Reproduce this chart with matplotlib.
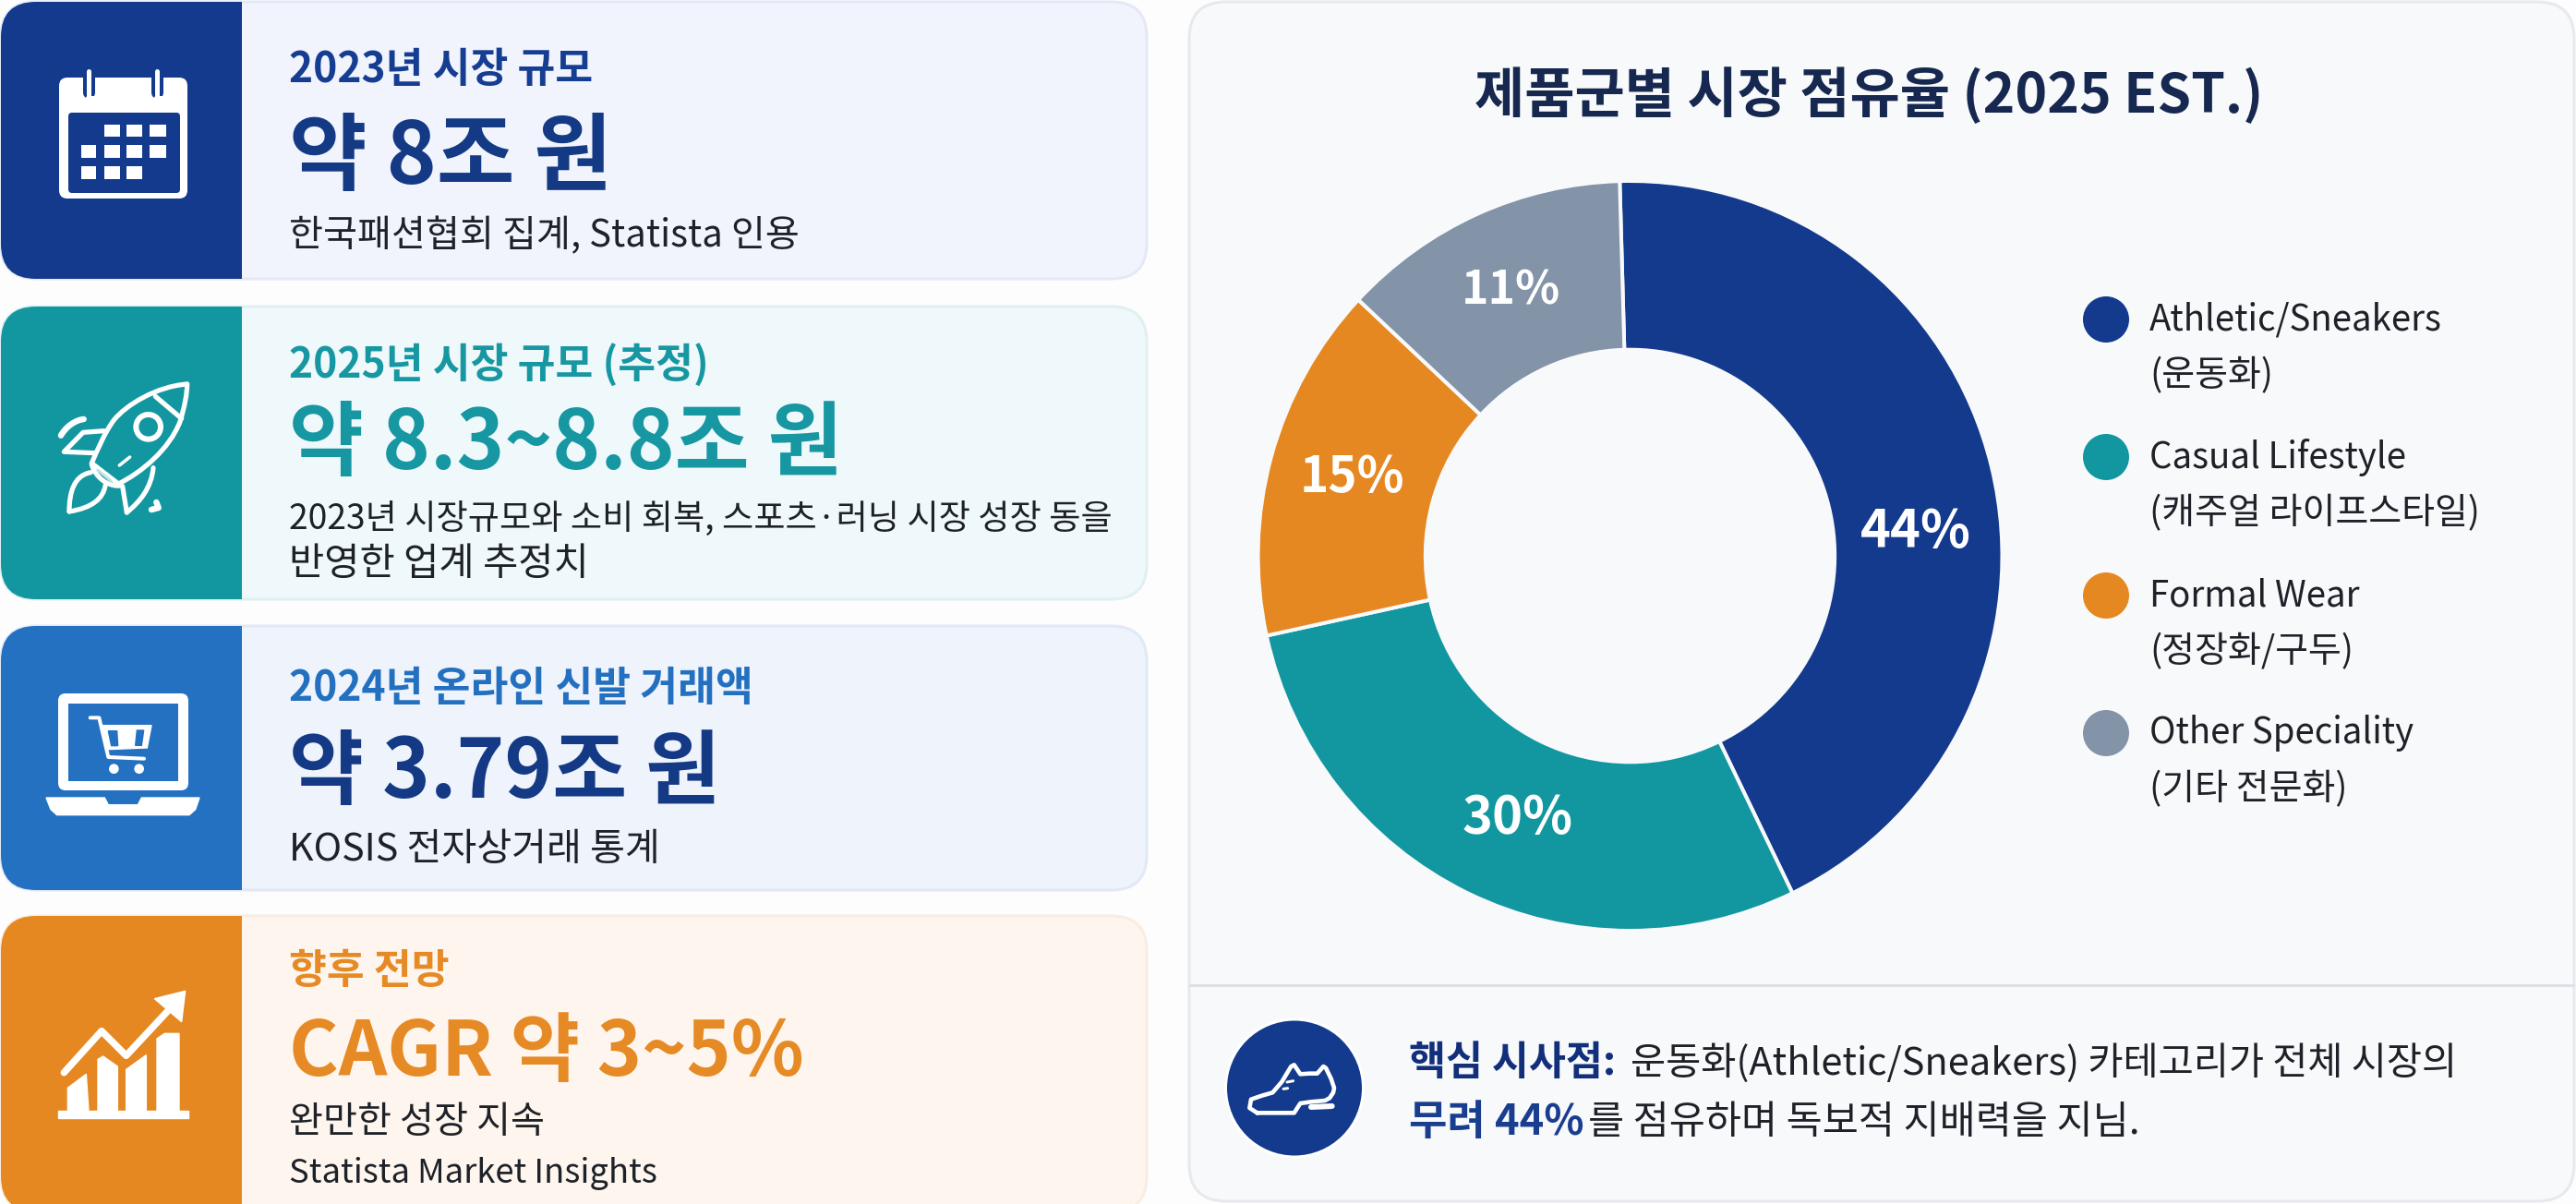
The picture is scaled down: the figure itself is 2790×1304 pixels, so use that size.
import matplotlib
matplotlib.use("Agg")
import matplotlib.pyplot as plt
from matplotlib.patches import FancyBboxPatch, Rectangle, Circle, PathPatch, Polygon
from matplotlib.path import Path

plt.rcParams["font.family"] = ["Noto Sans CJK KR", "DejaVu Sans"]

W, H = 2790, 1304

# donut data
categories = ["Athletic/Sneakers", "Casual Lifestyle", "Formal Wear", "Other Speciality"]
categories_ko = ["(운동화)", "(캐주얼 라이프스타일)", "(정장화/구두)", "(기타 전문화)"]
share_labels = ["44%", "30%", "15%", "11%"]
# arc sizes as measured on the picture
arc_sizes = [43.3, 28.8, 15.4, 12.6]

# cards
card_titles = ["2023년 시장 규모", "2025년 시장 규모 (추정)", "2024년 온라인 신발 거래액", "향후 전망"]
card_values = ["약 8조 원", "약 8.3~8.8조 원", "약 3.79조 원", "CAGR 약 3~5%"]
card_notes = [
    ["한국패션협회 집계, Statista 인용"],
    ["2023년 시장규모와 소비 회복, 스포츠·러닝 시장 성장 동을", "반영한 업계 추정치"],
    ["KOSIS 전자상거래 통계"],
    ["완만한 성장 지속", "Statista Market Insights"],
]

NAVY = "#133A8C"
TEAL = "#1297A1"
ORANGE = "#E68821"
GRAY = "#8393A8"
BLUE = "#2471C2"
slice_colors = [NAVY, TEAL, ORANGE, GRAY]
INK = "#1E2228"

card_boxes = [(2, 302), (332, 649), (678, 964), (992, 1312)]
card_accent = [NAVY, TEAL, BLUE, ORANGE]
card_bg = ["#F1F4FC", "#EFF8FA", "#EEF3FC", "#FEF6EE"]
card_edge = ["#E4E9F5", "#E0F0F2", "#E1E9F6", "#F9EDE0"]
title_colors = ["#153D92", "#1697A2", "#2470C0", "#E68A25"]
value_colors = ["#143A85", "#1697A2", "#143A85", "#E68A25"]
title_y = [71, 390, 741, 1047]
value_y = [162, 473, 829, 1132]
note_y = [[251], [558, 607], [916], [1211, 1267]]
value_size = [92, 88, 88, 82]
note_size = [[40.2], [37.2], [41.2], [40.2, 36.4]]
note_size[1].append(41.6)

fig = plt.figure(figsize=(W / 100, H / 100), dpi=100, facecolor="#FDFDFE")
ax = fig.add_axes([0, 0, 1, 1])
ax.set_xlim(0, W)
ax.set_ylim(H, 0)
ax.axis("off")


def fs(px):
    return px * 0.72


def text(x, y, s, size, color=INK, weight="normal", ha="left"):
    return ax.text(x, y, s, fontsize=fs(size), color=color, fontweight=weight,
                   ha=ha, va="center_baseline", zorder=6)


# white icon helpers, coordinates come from a crop with its own origin and scale
def icon_xy(pts, origin, sx=1 / 3, sy=1 / 3):
    return [(origin[0] + p[0] * sx, origin[1] + p[1] * sy) for p in pts]


def stroke(pts, origin, lw=5.2, codes=None, color="white", fill="none"):
    v = icon_xy(pts, origin)
    if codes is None:
        codes = [Path.MOVETO] + [Path.LINETO] * (len(v) - 1)
    ax.add_patch(PathPatch(Path(v, codes), fc=fill, ec=color, lw=fs(lw),
                           capstyle="round", joinstyle="round", zorder=5))


def solid(pts, origin, color="white"):
    ax.add_patch(Polygon(icon_xy(pts, origin), closed=True, fc=color, ec=color, lw=1, zorder=5))


def curve_codes(n_curves):
    return [Path.MOVETO] + [Path.CURVE4] * (3 * n_curves)


def calendar_icon():
    ax.add_patch(FancyBboxPatch((64, 84), 139, 131, boxstyle="round,pad=0,rounding_size=9",
                                fc="white", ec="none", zorder=4))
    ax.add_patch(FancyBboxPatch((74, 122), 121, 87, boxstyle="round,pad=0,rounding_size=4",
                                fc=NAVY, ec="none", zorder=5))
    for rx in (96, 170):
        ax.plot([rx, rx], [80, 100], color=NAVY, lw=fs(13), solid_capstyle="round", zorder=5)
        ax.plot([rx, rx], [77, 104], color="white", lw=fs(5), solid_capstyle="round", zorder=6)
        ax.plot([rx - 1, rx + 6], [106, 106], color="white", lw=fs(4), solid_capstyle="round", zorder=6)
    cols = [(88, 104), (113, 130), (137, 154), (162, 180)]
    rows = [(135, 148), (157, 171), (180, 194)]
    for r, (y0, y1) in enumerate(rows):
        for c, (x0, x1) in enumerate(cols):
            if (r == 0 and c == 0) or (r == 2 and c == 3):
                continue
            ax.add_patch(Rectangle((x0, y0), x1 - x0, y1 - y0, fc="white", ec="none", zorder=6))


def rocket_icon():
    o = (40, 400)
    stroke([(488, 48), (390, 55), (290, 115), (250, 165), (220, 205), (195, 265), (178, 305)], o,
           codes=curve_codes(2))
    stroke([(178, 305), (265, 372)], o)
    stroke([(265, 372), (340, 335), (430, 260), (465, 170), (480, 120), (488, 80), (488, 48)], o,
           codes=curve_codes(2))
    stroke([(385, 88), (470, 160)], o)
    ax.add_patch(Circle((40 + 362 / 3, 400 + 187 / 3), 40 / 3, fc="none", ec="white", lw=fs(6), zorder=5))
    stroke([(268, 312), (302, 285)], o, lw=3.5)
    stroke([(218, 200), (150, 205), (88, 268), (190, 272)], o)
    stroke([(378, 320), (372, 385), (335, 430), (292, 465)], o, codes=curve_codes(1))
    stroke([(292, 465), (278, 380)], o)
    stroke([(175, 335), (120, 345), (105, 400), (105, 462)], o, codes=curve_codes(1))
    stroke([(105, 462), (180, 450), (215, 420), (222, 378)], o, codes=curve_codes(1))
    stroke([(178, 310), (190, 350), (230, 382), (270, 378)], o, codes=curve_codes(1))
    stroke([(198, 328), (240, 362)], o, lw=3, color="#BFE3E6")
    stroke([(78, 215), (95, 185), (125, 165), (152, 162)], o, lw=6.5, codes=curve_codes(1))
    stroke([(372, 456), (395, 450), (388, 432)], o, lw=6.5)


def laptop_icon():
    o = (30, 730)
    ax.add_patch(FancyBboxPatch((63, 751), 141, 105, boxstyle="round,pad=0,rounding_size=8",
                                fc="white", ec="none", zorder=4))
    ax.add_patch(Rectangle((74, 762), 119, 84, fc=BLUE, ec="none", zorder=4.5))
    solid([(60, 402), (250, 402), (262, 425), (358, 425), (370, 402), (558, 402), (545, 440),
           (525, 458), (95, 458), (75, 440)], o)
    stroke([(203, 142), (232, 142), (262, 270), (378, 275)], o, lw=4)
    solid([(240, 167), (402, 167), (388, 240), (262, 245)], o)
    solid([(262, 185), (290, 185), (293, 233), (272, 233)], o, BLUE)
    solid([(355, 183), (377, 183), (370, 232), (350, 232)], o, BLUE)
    for wx in (280, 362):
        ax.add_patch(Circle((30 + wx / 3, 730 + 308 / 3), 16 / 3, fc="white", ec="none", zorder=5))


def growth_icon():
    o = (40, 1060)
    solid([(70, 430), (492, 430), (492, 452), (70, 452)], o)
    solid([(100, 355), (160, 310), (168, 430), (100, 430)], o)
    solid([(198, 262), (215, 252), (262, 285), (262, 430), (198, 430)], o)
    solid([(290, 295), (355, 248), (355, 430), (290, 430)], o)
    solid([(390, 195), (415, 178), (462, 178), (462, 430), (390, 430)], o)
    stroke([(88, 305), (210, 170), (290, 250), (425, 105)], o, lw=7.5)
    solid([(382, 65), (482, 40), (470, 140)], o)


def shoe_icon():
    o = (1320, 1100)
    stroke([(125, 316), (100, 300), (105, 272), (140, 260), (175, 250), (205, 215), (235, 165),
            (245, 160), (265, 190), (295, 188), (320, 188), (340, 165), (348, 170),
            (365, 205), (375, 235), (372, 250), (360, 268), (345, 276), (300, 280),
            (265, 285), (245, 316), (125, 316)], o, lw=4.6,
           codes=[Path.MOVETO] + [Path.LINETO] * 21)
    stroke([(300, 297), (368, 294)], o, lw=6)
    stroke([(222, 216), (242, 212)], o, lw=3)
    stroke([(210, 238), (224, 236)], o, lw=3)


icons = [calendar_icon, rocket_icon, laptop_icon, growth_icon]

# left cards
for i, (y0, y1) in enumerate(card_boxes):
    card = FancyBboxPatch((1, y0), 1241, y1 - y0, boxstyle="round,pad=0,rounding_size=38",
                          fc=card_bg[i], ec=card_edge[i], lw=fs(3), zorder=1)
    ax.add_patch(card)
    block = Rectangle((0, y0 - 2), 262, y1 - y0 + 4, fc=card_accent[i], ec="none", zorder=2)
    ax.add_patch(block)
    block.set_clip_path(card)
    icons[i]()
    text(313, title_y[i], card_titles[i], 44.4, title_colors[i], "bold")
    text(313, value_y[i], card_values[i], value_size[i], value_colors[i], "bold")
    for yy, line, sz in zip(note_y[i], card_notes[i], note_size[i]):
        text(313, yy, line, sz)

# right panel
panel = FancyBboxPatch((1288, 2), 1500, 1299, boxstyle="round,pad=0,rounding_size=40",
                       fc="#F8F9FB", ec="#E6E9EE", lw=fs(3), zorder=1)
ax.add_patch(panel)
ax.plot([1289, 2787], [1067, 1067], color="#DDE1E7", lw=fs(3), zorder=2)
text(2024, 98, "제품군별 시장 점유율 (2025 EST.)", 59, "#16284F", "bold", ha="center")

# legend
legend_y = [346, 495, 645, 794]
for yy, name, name_ko, col in zip(legend_y, categories, categories_ko, slice_colors):
    ax.add_patch(Circle((2281, yy), 25, fc=col, ec="none", zorder=3))
    text(2328, yy - 4, name, 38.4)
    text(2328, yy + 57, name_ko, 39)

# key point
ax.add_patch(Circle((1402, 1178.5), 76, fc="white", ec="none", zorder=2))
ax.add_patch(Circle((1402, 1178.5), 73, fc=NAVY, ec="none", zorder=3))
shoe_icon()
text(1526, 1147, "핵심 시사점:", 43.5, "#12307A", "bold")
text(1766, 1147, "운동화(Athletic/Sneakers) 카테고리가 전체 시장의", 41.5)
text(1526, 1211, "무려 44%", 45, "#1A3E8F", "bold")
text(1720, 1211, "를 점유하며 독보적 지배력을 지님.", 42.5)

# donut, in its own axes so the library does the angles; the ring is a touch taller than wide
cx, cy, Rx, Ry, r_frac = 1765.5, 602, 403, 406, 0.55
pad = 1.03
pie_ax = fig.add_axes([(cx - Rx * pad) / W, 1 - (cy + Ry * pad) / H, 2 * Rx * pad / W, 2 * Ry * pad / H])
pie_ax.pie(arc_sizes, colors=slice_colors, startangle=91.6, counterclock=False, radius=1,
           wedgeprops=dict(width=1 - r_frac, edgecolor="#F8F9FB", linewidth=fs(4)))
pie_ax.set_xlim(-pad, pad)
pie_ax.set_ylim(-pad, pad)
pie_ax.set_aspect("auto")
pie_ax.axis("off")

label_px = [(2075, 570), (1644, 880), (1464, 511), (1637, 310)]
label_size = [56, 56, 53, 50]
for (lx, ly), lab, sz in zip(label_px, share_labels, label_size):
    pie_ax.text((lx - cx) / Rx, (cy - ly) / Ry, lab, fontsize=fs(sz), color="white", fontweight="bold",
                ha="center", va="center_baseline")

fig.savefig("out.png", dpi=100, facecolor=fig.get_facecolor())
